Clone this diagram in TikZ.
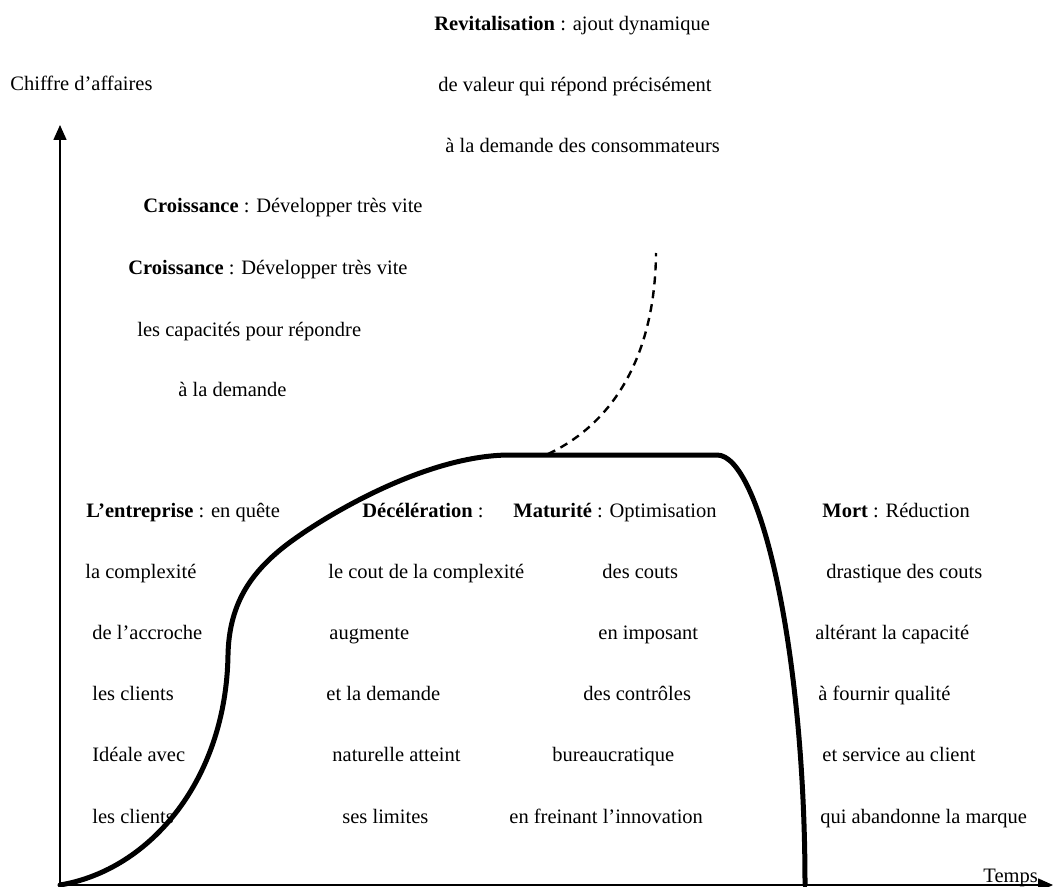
\documentclass[tikz,border=0pt]{standalone}
\usepackage{fontspec}
\setmainfont{Liberation Serif}
\usetikzlibrary{arrows.meta}

\begin{document}
\begin{tikzpicture}[x=0.5pt, y=-0.5pt,
    lbl/.style={anchor=base west, inner sep=0pt, font=\fontsize{10.25pt}{12pt}\selectfont},
    axis/.style={line width=0.8pt, -{Triangle[length=7.5pt,width=6.5pt]}},
    cycle/.style={line width=2.5pt, line cap=round},
    revival/.style={line width=1.2pt, dash pattern=on 4pt off 3pt},]
    \useasboundingbox (0,0) rectangle (1053,887);
    % axes
    \coordinate (O)    at (60,885);
    \coordinate (ytop) at (60,125);
    \coordinate (xend) at (1053,885);
    \draw[axis] (O) -- (ytop);
    \draw[axis] (O) -- (xend);
    \node[lbl] (ca)    at (10,91)   {Chiffre d’affaires};
    \node[lbl] (temps) at (983,882) {Temps};
    % curve
    \coordinate (bend)  at (228,655);
    \coordinate (mid)   at (280,550);
    \coordinate (top1)  at (510,455);
    \coordinate (fork)  at (548,454);
    \coordinate (top2)  at (717,455);
    \coordinate (end)   at (805,885);
    \coordinate (new)   at (656,253);
    \draw[cycle] (O) .. controls (150,870) and (226,780) .. (bend)
                     .. controls (229,605) and (250,575) .. (mid)
                     .. controls (310,525) and (420,455) .. (top1)
                     -- (top2)
                     .. controls (760,455) and (805,650) .. (end);
    \draw[revival] (fork) .. controls (610,425) and (655,360) .. (new);
    % revitalisation
    \node[lbl] (rev1) at (434,31)  {\textbf{Revitalisation} : ajout dynamique};
    \node[lbl] (rev2) at (438,92)  {de valeur qui répond précisément};
    \node[lbl] (rev3) at (445,153) {à la demande des consommateurs};
    % croissance
    \node[lbl] (cro1) at (143,213) {\textbf{Croissance} : Développer très vite};
    \node[lbl] (cro2) at (128,275) {\textbf{Croissance} : Développer très vite};
    \node[lbl] (cro3) at (137,336) {les capacités pour répondre};
    \node[lbl] (cro4) at (178,396) {à la demande};
    % entreprise
    \node[lbl] (ent1) at (86,517)  {\textbf{L’entreprise} : en quête};
    \node[lbl] (ent2) at (85,578)  {la complexité};
    \node[lbl] (ent3) at (92,639)  {de l’accroche};
    \node[lbl] (ent4) at (92,700)  {les clients};
    \node[lbl] (ent5) at (92,761)  {Idéale avec};
    \node[lbl] (ent6) at (92,823)  {les clients};
    % deceleration
    \node[lbl] (dec1) at (362,517) {\textbf{Décélération} :};
    \node[lbl] (dec2) at (328,578) {le cout de la complexité};
    \node[lbl] (dec3) at (329,639) {augmente};
    \node[lbl] (dec4) at (326,700) {et la demande};
    \node[lbl] (dec5) at (332,761) {naturelle atteint};
    \node[lbl] (dec6) at (342,823) {ses limites};
    % maturite
    \node[lbl] (mat1) at (513,517) {\textbf{Maturité} : Optimisation};
    \node[lbl] (mat2) at (602,578) {des couts};
    \node[lbl] (mat3) at (598,639) {en imposant};
    \node[lbl] (mat4) at (583,700) {des contrôles};
    \node[lbl] (mat5) at (552,761) {bureaucratique};
    \node[lbl] (mat6) at (509,823) {en freinant l’innovation};
    % mort
    \node[lbl] (mort1) at (822,517) {\textbf{Mort} : Réduction};
    \node[lbl] (mort2) at (826,578) {drastique des couts};
    \node[lbl] (mort3) at (815,639) {altérant la capacité};
    \node[lbl] (mort4) at (818,700) {à fournir qualité};
    \node[lbl] (mort5) at (822,761) {et service au client};
    \node[lbl] (mort6) at (820,823) {qui abandonne la marque};
\end{tikzpicture}
\end{document}
